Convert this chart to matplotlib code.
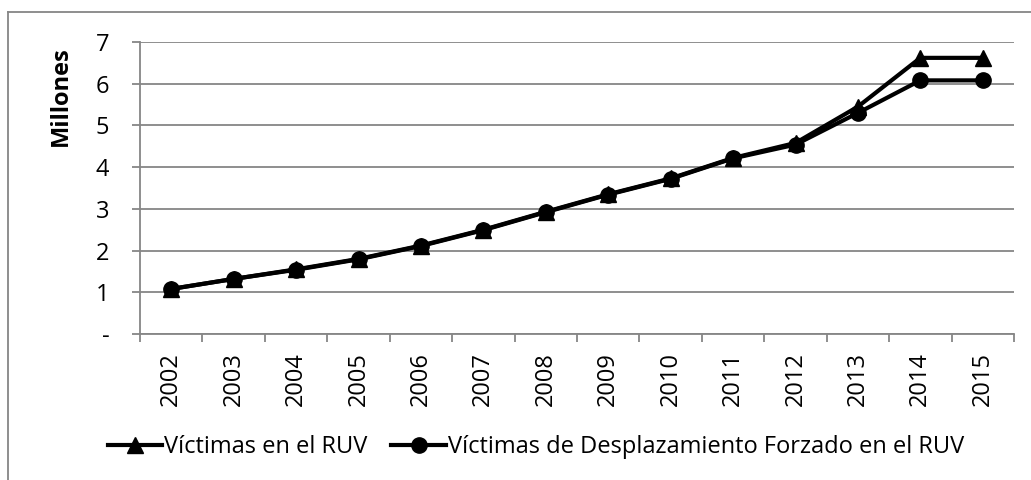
import matplotlib
matplotlib.use("Agg")
import matplotlib.pyplot as plt
from matplotlib.lines import Line2D

plt.rcParams["font.family"] = ["Open Sans", "DejaVu Sans"]

years = ["2002", "2003", "2004", "2005", "2006", "2007", "2008",
         "2009", "2010", "2011", "2012", "2013", "2014", "2015"]
victimas_ruv = [1.08, 1.32, 1.55, 1.80, 2.12, 2.50, 2.93,
                3.35, 3.73, 4.22, 4.58, 5.45, 6.62, 6.62]
victimas_desplazamiento = [1.08, 1.32, 1.54, 1.79, 2.11, 2.49, 2.92,
                           3.34, 3.72, 4.21, 4.54, 5.30, 6.08, 6.08]
y_ticks = [0, 1, 2, 3, 4, 5, 6, 7]
y_labels = ["-", "1", "2", "3", "4", "5", "6", "7"]

GRID = "#868686"
FS = 17

fig = plt.figure(figsize=(10.31, 4.80), dpi=100)
ax = fig.add_axes([140 / 1031, 1 - 334 / 480, (1014 - 140) / 1031, (334 - 42) / 480])

x = list(range(len(years)))
ax.plot(x, victimas_ruv, color="black", lw=3, marker="^", ms=11,
        label="Víctimas en el RUV", zorder=3)
ax.plot(x, victimas_desplazamiento, color="black", lw=3, marker="o", ms=11,
        label="Víctimas de Desplazamiento Forzado en el RUV", zorder=4)

ax.set_xlim(-0.5, len(years) - 0.5)
ax.set_ylim(0, 7)
ax.set_yticks(y_ticks)
ax.set_yticklabels(y_labels, fontsize=FS)
ax.set_xticks(x)
ax.set_xticklabels(years, rotation=90, fontsize=FS)
ax.set_xticks([i - 0.5 for i in range(len(years) + 1)], minor=True)
ax.tick_params(axis="x", which="major", length=0, pad=13)
ax.tick_params(axis="x", which="minor", length=6, width=1.3, color=GRID, direction="out")
ax.tick_params(axis="y", length=6, width=1.3, color=GRID, direction="out", pad=16)

ax.grid(axis="y", color=GRID, lw=1.3)
ax.set_axisbelow(True)
for side in ["top", "right"]:
    ax.spines[side].set_visible(False)
for side in ["left", "bottom"]:
    ax.spines[side].set_color(GRID)
    ax.spines[side].set_linewidth(1.3)

ax.set_ylabel("Millones", fontsize=FS, fontweight="bold")
ax.yaxis.set_label_coords(-0.077, 0.815)

handles = [
    Line2D([], [], color="black", lw=3, marker="^", ms=11),
    Line2D([], [], color="black", lw=3, marker="o", ms=11),
]
fig.legend(handles, ["Víctimas en el RUV", "Víctimas de Desplazamiento Forzado en el RUV"],
           loc="center", bbox_to_anchor=(536 / 1031, 1 - 447 / 480), ncol=2,
           frameon=False, fontsize=FS, handlelength=2.3, handletextpad=0.1,
           columnspacing=1.0, borderpad=0, borderaxespad=0)

# outer chart-area frame (left and top edges visible)
fig.add_artist(Line2D([8 / 1031, 8 / 1031], [0, 1 - 12 / 480], color=GRID, lw=1.3))
fig.add_artist(Line2D([8 / 1031, 1], [1 - 12 / 480, 1 - 12 / 480], color=GRID, lw=1.3))

fig.savefig("out.png", dpi=100)
